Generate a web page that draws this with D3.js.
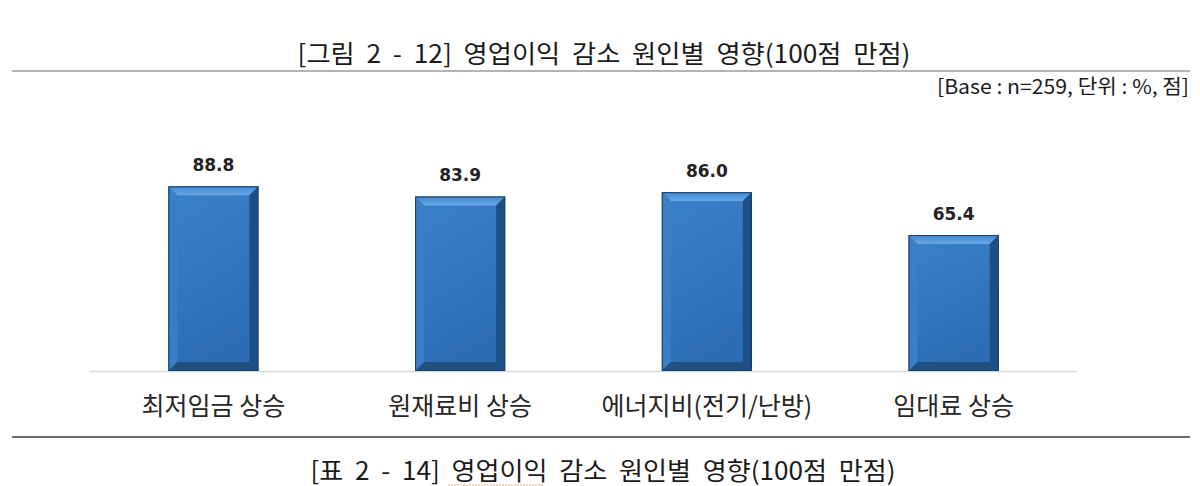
<!DOCTYPE html>
<html>
<head>
<meta charset="utf-8">
<script src="https://cdn.jsdelivr.net/npm/d3@7"></script>
<style>
  body { margin: 0; background: #fff; }
  svg { display: block; }
</style>
</head>
<body>
<div id="chart"></div>
<script>
// 데이터
const categories = ["최저임금 상승", "원재료비 상승", "에너지비(전기/난방)", "임대료 상승"];
const scores = [88.8, 83.9, 86.0, 65.4];

const chartTitle = "[그림  2  -  12]  영업이익  감소  원인별  영향(100점  만점)";
const baseNote = "[Base : n=259, 단위 : %, 점]";
const tableTitle = "[표  2  -  14]  영업이익  감소  원인별  영향(100점  만점)";

const W = 1200, H = 486;
const margin = { left: 90, right: 123, top: 163, bottom: 115 };

const svg = d3.select("#chart")
  .append("svg")
  .attr("width", W)
  .attr("height", H);

// 그라디언트
const defs = svg.append("defs");
const face = defs.append("linearGradient").attr("id", "face")
  .attr("x1", 0).attr("y1", 0).attr("x2", 0.3).attr("y2", 1);
face.append("stop").attr("offset", "0%").attr("stop-color", "#3a82cc");
face.append("stop").attr("offset", "100%").attr("stop-color", "#2c6db3");

const topG = defs.append("linearGradient").attr("id", "bevelTop")
  .attr("x1", 0).attr("y1", 0).attr("x2", 0).attr("y2", 1);
topG.append("stop").attr("offset", "0%").attr("stop-color", "#3f86cf");
topG.append("stop").attr("offset", "100%").attr("stop-color", "#6aa8e6");

// 제목
svg.append("text")
  .attr("x", 604).attr("y", 63)
  .attr("text-anchor", "middle")
  .attr("textLength", 613).attr("lengthAdjust", "spacingAndGlyphs")
  .style("white-space", "pre")
  .style("font-family", "'Noto Sans CJK KR', sans-serif")
  .style("font-size", "25px")
  .style("fill", "#1a1a1a")
  .text(chartTitle);

svg.append("line")
  .attr("x1", 12).attr("x2", 1190).attr("y1", 71).attr("y2", 71)
  .attr("stroke", "#9a9a9a").attr("stroke-width", 1.5);

svg.append("text")
  .attr("x", 1189).attr("y", 94)
  .attr("text-anchor", "end")
  .attr("textLength", 252).attr("lengthAdjust", "spacingAndGlyphs")
  .style("font-family", "'Noto Sans CJK KR', sans-serif")
  .style("font-size", "20px")
  .style("fill", "#1a1a1a")
  .text(baseNote);

// 스케일
const x = d3.scaleBand()
  .domain(categories)
  .range([margin.left, W - margin.right])
  .paddingInner(0.635)
  .paddingOuter(0.3175);

const y = d3.scaleLinear()
  .domain([0, 100])
  .range([H - margin.bottom, H - margin.bottom - 208]);

// 축 선
svg.append("line")
  .attr("x1", margin.left).attr("x2", W - margin.right)
  .attr("y1", y(0) + 0.5).attr("y2", y(0) + 0.5)
  .attr("stroke", "#d9d9d9").attr("stroke-width", 1.5);

// 막대 (베벨 효과)
const bevel = 9;
const bars = svg.selectAll(".bar")
  .data(scores)
  .enter()
  .append("g")
  .attr("class", "bar");

bars.each(function (d, i) {
  const g = d3.select(this);
  const x0 = x(categories[i]), x1 = x0 + x.bandwidth();
  const y0 = y(d), y1 = y(0);
  const b = bevel;
  g.append("rect")
    .attr("x", x0).attr("y", y0)
    .attr("width", x1 - x0).attr("height", y1 - y0)
    .attr("fill", "url(#face)");
  // 위
  g.append("polygon")
    .attr("points", [[x0, y0], [x1, y0], [x1 - b, y0 + b], [x0 + b, y0 + b]].join(" "))
    .attr("fill", "url(#bevelTop)");
  // 왼쪽
  g.append("polygon")
    .attr("points", [[x0, y0], [x0 + b, y0 + b], [x0 + b, y1 - b], [x0, y1]].join(" "))
    .attr("fill", "#3a7fc6");
  // 오른쪽
  g.append("polygon")
    .attr("points", [[x1, y0], [x1, y1], [x1 - b, y1 - b], [x1 - b, y0 + b]].join(" "))
    .attr("fill", "#1d4f84");
  // 아래
  g.append("polygon")
    .attr("points", [[x0, y1], [x1, y1], [x1 - b, y1 - b], [x0 + b, y1 - b]].join(" "))
    .attr("fill", "#21507f");
  g.append("rect")
    .attr("x", x0 + 0.5).attr("y", y0 + 0.5)
    .attr("width", x1 - x0 - 1).attr("height", y1 - y0 - 1)
    .attr("fill", "none")
    .attr("stroke", "#1b3f66").attr("stroke-width", 1);
});

// 값 라벨
svg.selectAll(".val")
  .data(scores)
  .enter()
  .append("text")
  .attr("class", "val")
  .attr("x", (d, i) => x(categories[i]) + x.bandwidth() / 2)
  .attr("y", d => y(d) - 15)
  .attr("text-anchor", "middle")
  .style("font-family", "'DejaVu Sans', sans-serif")
  .style("font-weight", "bold")
  .style("font-size", "17px")
  .style("fill", "#222")
  .text(d => d.toFixed(1));

// 항목 라벨
const xAxis = svg.append("g")
  .attr("transform", `translate(0, ${y(0)})`)
  .call(d3.axisBottom(x).tickSize(0).tickPadding(26));
xAxis.select(".domain").remove();
xAxis.selectAll("text")
  .style("font-family", "'Noto Sans CJK KR', sans-serif")
  .style("font-size", "25px")
  .style("fill", "#262626");

// 아래 선과 표 제목
svg.append("line")
  .attr("x1", 12).attr("x2", 1190).attr("y1", 437).attr("y2", 437)
  .attr("stroke", "#6e6e6e").attr("stroke-width", 2);

svg.append("text")
  .attr("x", 603).attr("y", 480)
  .attr("text-anchor", "middle")
  .attr("textLength", 585).attr("lengthAdjust", "spacingAndGlyphs")
  .style("white-space", "pre")
  .style("font-family", "'Noto Sans CJK KR', sans-serif")
  .style("font-size", "25px")
  .style("fill", "#1a1a1a")
  .text(tableTitle);

svg.append("line")
  .attr("x1", 448).attr("x2", 543).attr("y1", 485).attr("y2", 485)
  .attr("stroke", "#f0b070").attr("stroke-width", 1.2)
  .attr("stroke-dasharray", "2,1");
</script>
</body>
</html>
